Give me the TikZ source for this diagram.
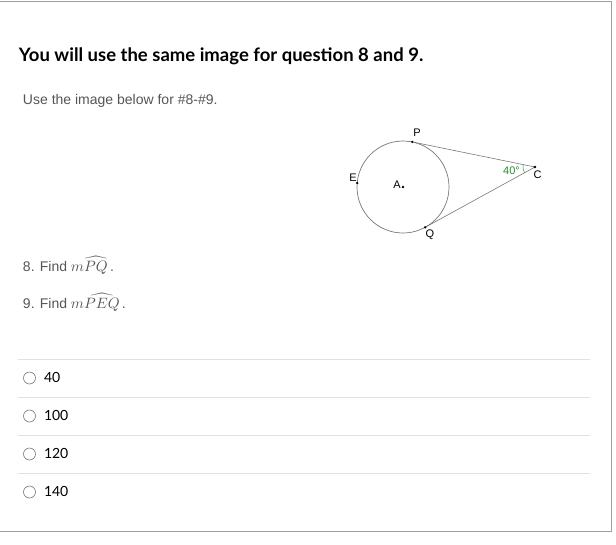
\documentclass[tikz,border=0pt]{standalone}
\usepackage{amsmath}
\usepackage{graphicx}
\usepackage{fontspec}
\setmainfont{Liberation Sans}
\newfontfamily\latof{Lato}
\usetikzlibrary{angles}
\definecolor{txtgray}{RGB}{85,85,85}
\definecolor{rulegray}{RGB}{225,225,225}
\definecolor{framegray}{RGB}{160,160,160}
\definecolor{anglegreen}{RGB}{40,140,40}
\definecolor{figgray}{RGB}{120,120,120}
\tikzset{
  txt/.style={anchor=base west, inner sep=0pt, outer sep=0pt},
  lbl/.style={inner sep=0pt, font=\fontsize{11}{13}\selectfont},
  dotp/.style={fill=black, circle, inner sep=0pt, minimum size=2.6pt},
  radio/.style={draw=figgray, line width=0.6pt, circle, inner sep=0pt, minimum size=12pt},
  sep/.style={draw=rulegray, line width=0.8pt},
  opt/.style={txt, font=\latof\fontsize{14}{16}\selectfont},
  qtxt/.style={txt, font=\fontsize{14}{16}\selectfont, text=txtgray},
}
\newcommand{\myarcm}[1]{\scalebox{1.5}{\fontsize{10}{12}\selectfont$m\widehat{#1}$}}
\begin{document}
\begin{tikzpicture}[x=1pt,y=-1pt]
\useasboundingbox (0,0) rectangle (616,544);
% frame
\coordinate (f1) at (0,1);
\coordinate (f2) at (611,1);
\coordinate (f3) at (611,531);
\coordinate (f4) at (0,531);
\draw[framegray, line width=1pt] (f1) -- (f2) -- (f3) -- (f4);
% title
\node[txt, font=\latof\bfseries\fontsize{18.5}{22}\selectfont] (title) at (19,61) {You will use the same image for question 8 and 9.};
\node[qtxt] (sub) at (23,104) {Use the image below for \#8-\#9.};
% figure
\coordinate (A) at (403,187);
\draw[figgray, line width=0.7pt] (A) circle[radius=46];
\coordinate (P) at (412.2,141.9);
\coordinate (Q) at (425.2,227.3);
\coordinate (E) at (357.2,183);
\coordinate (C) at (535,167);
\draw[figgray, line width=0.6pt] (P) -- (C) -- (Q);
\pic[draw=anglegreen, line width=0.5pt, angle radius=12pt] {angle = P--C--Q};
\node[dotp] (dA) at (A) {};
\node[dotp] (dP) at (P) {};
\node[dotp] (dQ) at (Q) {};
\node[dotp] (dE) at (E) {};
\node[dotp] (dC) at (C) {};
\node[lbl] (lP) at (417,133) {P};
\node[lbl] (lE) at (353,177.5) {E};
\node[lbl] (lQ) at (430,234.5) {Q};
\node[lbl] (lC) at (537.5,175) {C};
\node[lbl] (lA) at (397,185) {A};
\node[lbl, text=anglegreen, anchor=base west] (l40) at (503,174) {40\textdegree};
% questions
\node[qtxt] (q8) at (23,271) {8. Find \myarcm{PQ}\,.};
\node[qtxt] (q9) at (23,308) {9. Find \myarcm{PEQ}\,.};
% separators
\foreach \y/\n in {359/s1,397/s2,435/s3,473/s4}{
  \coordinate (\n a) at (18,\y);
  \coordinate (\n b) at (590,\y);
  \draw[sep] (\n a) -- (\n b);
}
% options
\foreach \y/\t/\n in {377/40/o1,415/100/o2,453/120/o3,491/140/o4}{
  \node[radio] (\n r) at (29.5,\y+1) {};
  \node[opt] (\n t) at (44,\y+5.5) {\t};
}
\end{tikzpicture}
\end{document}
